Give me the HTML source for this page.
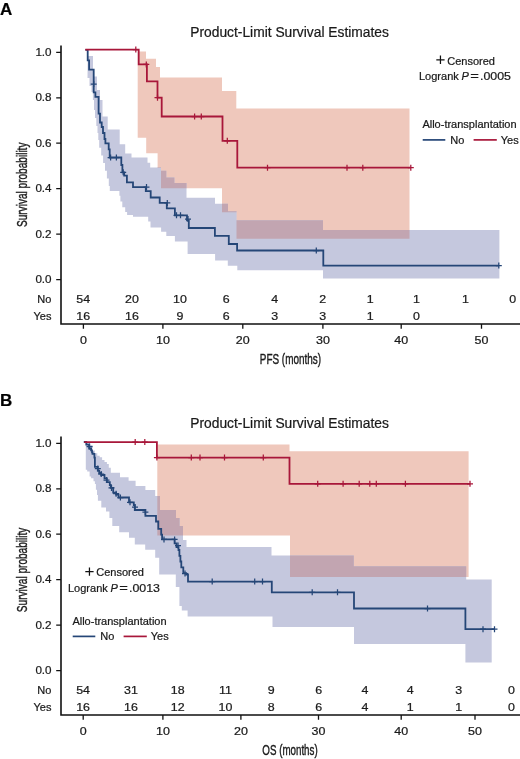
<!DOCTYPE html>
<html><head><meta charset="utf-8"><style>
html,body{margin:0;padding:0;background:#fff;width:520px;height:759px;overflow:hidden}
svg{display:block;will-change:transform}
text{font-family:"Liberation Sans",sans-serif;stroke:#1a1a1a;stroke-width:0.22px}
</style></head><body>
<svg width="520" height="759" viewBox="0 0 520 759">
<rect width="520" height="759" fill="#fff"/>
<path d="M137.70,51.50 L146.00,51.50 L146.00,58.70 L156.00,58.70 L156.00,67.00 L160.00,67.00 L160.00,77.50 L222.00,77.50 L222.00,91.00 L236.30,91.00 L236.30,108.50 L409.50,108.50 L409.50,238.80 L236.50,238.80 L236.50,212.30 L222.00,212.30 L222.00,188.30 L161.00,188.30 L161.00,168.10 L157.60,168.10 L157.60,153.30 L146.20,153.30 L146.20,137.80 L137.70,137.80 Z" fill="#EFC8BC"/>
<path d="M87.70,56.00 L93.00,56.00 L93.00,76.60 L97.00,76.60 L97.00,90.00 L100.00,90.00 L100.00,100.00 L102.50,100.00 L102.50,116.60 L107.70,116.60 L107.70,129.50 L119.70,129.50 L119.70,144.30 L125.20,144.30 L125.20,153.50 L131.50,153.50 L131.50,157.50 L147.50,157.50 L147.50,162.70 L150.20,162.70 L150.20,167.40 L161.00,167.40 L161.00,170.80 L166.30,170.80 L166.30,177.50 L174.40,177.50 L174.40,182.90 L186.50,182.90 L186.50,197.70 L215.00,197.70 L215.00,203.70 L228.00,203.70 L228.00,211.30 L236.50,211.30 L236.50,220.20 L323.00,220.20 L323.00,230.00 L499.40,230.00 L499.40,278.60 L323.00,278.60 L323.00,270.20 L237.30,270.20 L237.30,265.80 L227.80,265.80 L227.80,260.50 L215.10,260.50 L215.10,254.10 L187.60,254.10 L187.60,241.40 L174.90,241.40 L174.90,236.00 L166.30,236.00 L166.30,231.70 L161.10,231.70 L161.10,227.40 L150.50,227.40 L150.50,221.60 L148.20,221.60 L148.20,216.80 L133.00,216.80 L133.00,215.00 L127.10,215.00 L127.10,212.00 L125.20,212.00 L125.20,207.30 L122.30,207.30 L122.30,201.50 L120.40,201.50 L120.40,195.80 L119.40,195.80 L119.40,191.00 L109.80,191.00 L109.80,186.00 L108.80,186.00 L108.80,178.50 L106.90,178.50 L106.90,170.80 L105.00,170.80 L105.00,163.00 L103.10,163.00 L103.10,155.40 L101.20,155.40 L101.20,147.70 L99.20,147.70 L99.20,140.00 L98.30,140.00 L98.30,133.00 L97.50,133.00 L97.50,126.00 L96.30,126.00 L96.30,118.00 L95.00,118.00 L95.00,110.00 L94.00,110.00 L94.00,100.00 L92.90,100.00 L92.90,92.00 L91.50,92.00 L91.50,86.00 L89.50,86.00 L89.50,78.00 L87.50,78.00 Z" fill="#C5C8DE"/>
<clipPath id="ca"><path d="M87.70,56.00 L93.00,56.00 L93.00,76.60 L97.00,76.60 L97.00,90.00 L100.00,90.00 L100.00,100.00 L102.50,100.00 L102.50,116.60 L107.70,116.60 L107.70,129.50 L119.70,129.50 L119.70,144.30 L125.20,144.30 L125.20,153.50 L131.50,153.50 L131.50,157.50 L147.50,157.50 L147.50,162.70 L150.20,162.70 L150.20,167.40 L161.00,167.40 L161.00,170.80 L166.30,170.80 L166.30,177.50 L174.40,177.50 L174.40,182.90 L186.50,182.90 L186.50,197.70 L215.00,197.70 L215.00,203.70 L228.00,203.70 L228.00,211.30 L236.50,211.30 L236.50,220.20 L323.00,220.20 L323.00,230.00 L499.40,230.00 L499.40,278.60 L323.00,278.60 L323.00,270.20 L237.30,270.20 L237.30,265.80 L227.80,265.80 L227.80,260.50 L215.10,260.50 L215.10,254.10 L187.60,254.10 L187.60,241.40 L174.90,241.40 L174.90,236.00 L166.30,236.00 L166.30,231.70 L161.10,231.70 L161.10,227.40 L150.50,227.40 L150.50,221.60 L148.20,221.60 L148.20,216.80 L133.00,216.80 L133.00,215.00 L127.10,215.00 L127.10,212.00 L125.20,212.00 L125.20,207.30 L122.30,207.30 L122.30,201.50 L120.40,201.50 L120.40,195.80 L119.40,195.80 L119.40,191.00 L109.80,191.00 L109.80,186.00 L108.80,186.00 L108.80,178.50 L106.90,178.50 L106.90,170.80 L105.00,170.80 L105.00,163.00 L103.10,163.00 L103.10,155.40 L101.20,155.40 L101.20,147.70 L99.20,147.70 L99.20,140.00 L98.30,140.00 L98.30,133.00 L97.50,133.00 L97.50,126.00 L96.30,126.00 L96.30,118.00 L95.00,118.00 L95.00,110.00 L94.00,110.00 L94.00,100.00 L92.90,100.00 L92.90,92.00 L91.50,92.00 L91.50,86.00 L89.50,86.00 L89.50,78.00 L87.50,78.00 Z"/></clipPath>
<path d="M137.70,51.50 L146.00,51.50 L146.00,58.70 L156.00,58.70 L156.00,67.00 L160.00,67.00 L160.00,77.50 L222.00,77.50 L222.00,91.00 L236.30,91.00 L236.30,108.50 L409.50,108.50 L409.50,238.80 L236.50,238.80 L236.50,212.30 L222.00,212.30 L222.00,188.30 L161.00,188.30 L161.00,168.10 L157.60,168.10 L157.60,153.30 L146.20,153.30 L146.20,137.80 L137.70,137.80 Z" fill="#C2A5B1" clip-path="url(#ca)"/>
<path d="M85.40,49.80 L87.70,49.80 L87.70,60.40 L89.10,60.40 L89.10,69.70 L93.70,69.70 L93.70,92.40 L95.40,92.40 L95.40,96.80 L98.60,96.80 L98.60,113.60 L100.00,113.60 L100.00,122.50 L101.70,122.50 L101.70,127.00 L103.00,127.00 L103.00,133.00 L104.50,133.00 L104.50,139.00 L105.40,139.00 L105.40,143.40 L108.70,143.40 L108.70,149.40 L109.70,149.40 L109.70,157.50 L121.30,157.50 L121.30,165.00 L122.40,165.00 L122.40,172.30 L124.20,172.30 L124.20,175.70 L126.90,175.70 L126.90,182.40 L133.00,182.40 L133.00,187.10 L145.80,187.10 L145.80,191.10 L147.50,191.10 L147.50,191.10 L150.70,191.10 L150.70,197.50 L159.70,197.50 L159.70,202.90 L166.80,202.90 L166.80,208.30 L174.90,208.30 L174.90,215.30 L187.00,215.30 L187.00,220.40 L188.80,220.40 L188.80,228.00 L214.90,228.00 L214.90,235.80 L228.80,235.80 L228.80,244.00 L237.10,244.00 L237.10,250.50 L323.30,250.50 L323.30,265.60 L498.80,265.60" stroke="#254677" stroke-width="1.8" fill="none"/>
<path d="M93.70,81.00 V87.00 M90.70,84.00 H96.70 M110.60,154.50 V160.50 M107.60,157.50 H113.60 M116.40,154.50 V160.50 M113.40,157.50 H119.40 M123.20,169.30 V175.30 M120.20,172.30 H126.20 M146.50,184.10 V190.10 M143.50,187.10 H149.50 M167.30,199.90 V205.90 M164.30,202.90 H170.30 M176.50,212.30 V218.30 M173.50,215.30 H179.50 M180.50,212.30 V218.30 M177.50,215.30 H183.50 M188.00,216.00 V222.00 M185.00,219.00 H191.00 M316.30,247.50 V253.50 M313.30,250.50 H319.30 M498.80,262.60 V268.60 M495.80,265.60 H501.80 " stroke="#254677" stroke-width="1.25" fill="none"/>
<path d="M85.30,49.60 L138.70,49.60 L138.70,64.40 L146.90,64.40 L146.90,81.30 L157.50,81.30 L157.50,97.70 L161.70,97.70 L161.70,116.50 L222.50,116.50 L222.50,140.80 L237.30,140.80 L237.30,167.70 L410.80,167.70" stroke="#A8173A" stroke-width="1.8" fill="none"/>
<path d="M135.80,46.60 V52.60 M132.80,49.60 H138.80 M146.30,61.40 V67.40 M143.30,64.40 H149.30 M157.50,94.70 V100.70 M154.50,97.70 H160.50 M194.60,113.50 V119.50 M191.60,116.50 H197.60 M201.30,113.50 V119.50 M198.30,116.50 H204.30 M227.30,137.80 V143.80 M224.30,140.80 H230.30 M267.50,164.70 V170.70 M264.50,167.70 H270.50 M347.00,164.70 V170.70 M344.00,167.70 H350.00 M362.80,164.70 V170.70 M359.80,167.70 H365.80 M410.80,164.70 V170.70 M407.80,167.70 H413.80 " stroke="#A8173A" stroke-width="1.25" fill="none"/>
<path d="M61,45.5 V324 H520" stroke="#111" stroke-width="1.6" fill="none"/>
<text transform="translate(51.60,55.80) scale(1.08,0.96)" text-anchor="end" font-size="10.8" fill="#1a1a1a">1.0</text>
<text transform="translate(51.60,101.30) scale(1.08,0.96)" text-anchor="end" font-size="10.8" fill="#1a1a1a">0.8</text>
<text transform="translate(51.60,146.70) scale(1.08,0.96)" text-anchor="end" font-size="10.8" fill="#1a1a1a">0.6</text>
<text transform="translate(51.60,192.20) scale(1.08,0.96)" text-anchor="end" font-size="10.8" fill="#1a1a1a">0.4</text>
<text transform="translate(51.60,237.60) scale(1.08,0.96)" text-anchor="end" font-size="10.8" fill="#1a1a1a">0.2</text>
<text transform="translate(51.60,283.10) scale(1.08,0.96)" text-anchor="end" font-size="10.8" fill="#1a1a1a">0.0</text>
<text transform="translate(83.40,343.80) scale(1.2,0.96)" text-anchor="middle" font-size="10.4" fill="#1a1a1a">0</text>
<text transform="translate(162.90,343.80) scale(1.2,0.96)" text-anchor="middle" font-size="10.4" fill="#1a1a1a">10</text>
<text transform="translate(242.80,343.80) scale(1.2,0.96)" text-anchor="middle" font-size="10.4" fill="#1a1a1a">20</text>
<text transform="translate(322.90,343.80) scale(1.2,0.96)" text-anchor="middle" font-size="10.4" fill="#1a1a1a">30</text>
<text transform="translate(401.20,343.80) scale(1.2,0.96)" text-anchor="middle" font-size="10.4" fill="#1a1a1a">40</text>
<text transform="translate(481.50,343.80) scale(1.2,0.96)" text-anchor="middle" font-size="10.4" fill="#1a1a1a">50</text>
<path d="M56.2,52.30 H61 M56.2,97.80 H61 M56.2,143.20 H61 M56.2,188.70 H61 M56.2,234.10 H61 M56.2,279.60 H61 M83.40,324 V328.8 M162.90,324 V328.8 M242.80,324 V328.8 M322.90,324 V328.8 M401.20,324 V328.8 M481.50,324 V328.8 " stroke="#111" stroke-width="1.3" fill="none"/>
<text x="51.4" y="303" text-anchor="end" font-size="11" fill="#1a1a1a">No</text>
<text x="51.4" y="320.1" text-anchor="end" font-size="11" fill="#1a1a1a">Yes</text>
<text transform="translate(83.20,303.00) scale(1.13,0.98)" text-anchor="middle" font-size="11" fill="#1a1a1a">54</text>
<text transform="translate(132.00,303.00) scale(1.13,0.98)" text-anchor="middle" font-size="11" fill="#1a1a1a">20</text>
<text transform="translate(180.00,303.00) scale(1.13,0.98)" text-anchor="middle" font-size="11" fill="#1a1a1a">10</text>
<text transform="translate(226.20,303.00) scale(1.13,0.98)" text-anchor="middle" font-size="11" fill="#1a1a1a">6</text>
<text transform="translate(274.70,303.00) scale(1.13,0.98)" text-anchor="middle" font-size="11" fill="#1a1a1a">4</text>
<text transform="translate(322.60,303.00) scale(1.13,0.98)" text-anchor="middle" font-size="11" fill="#1a1a1a">2</text>
<text transform="translate(370.20,303.00) scale(1.13,0.98)" text-anchor="middle" font-size="11" fill="#1a1a1a">1</text>
<text transform="translate(416.50,303.00) scale(1.13,0.98)" text-anchor="middle" font-size="11" fill="#1a1a1a">1</text>
<text transform="translate(465.50,303.00) scale(1.13,0.98)" text-anchor="middle" font-size="11" fill="#1a1a1a">1</text>
<text transform="translate(512.60,303.00) scale(1.13,0.98)" text-anchor="middle" font-size="11" fill="#1a1a1a">0</text>
<text transform="translate(83.20,320.10) scale(1.13,0.98)" text-anchor="middle" font-size="11" fill="#1a1a1a">16</text>
<text transform="translate(132.00,320.10) scale(1.13,0.98)" text-anchor="middle" font-size="11" fill="#1a1a1a">16</text>
<text transform="translate(180.00,320.10) scale(1.13,0.98)" text-anchor="middle" font-size="11" fill="#1a1a1a">9</text>
<text transform="translate(226.20,320.10) scale(1.13,0.98)" text-anchor="middle" font-size="11" fill="#1a1a1a">6</text>
<text transform="translate(274.70,320.10) scale(1.13,0.98)" text-anchor="middle" font-size="11" fill="#1a1a1a">3</text>
<text transform="translate(322.60,320.10) scale(1.13,0.98)" text-anchor="middle" font-size="11" fill="#1a1a1a">3</text>
<text transform="translate(370.20,320.10) scale(1.13,0.98)" text-anchor="middle" font-size="11" fill="#1a1a1a">1</text>
<text transform="translate(416.50,320.10) scale(1.13,0.98)" text-anchor="middle" font-size="11" fill="#1a1a1a">0</text>
<text x="0" y="15" font-size="17" font-weight="bold" fill="#000">A</text>
<text x="190.3" y="36.5" font-size="13.8" fill="#1a1a1a">Product-Limit Survival Estimates</text>
<text transform="translate(26.5,184.8) rotate(-90)" text-anchor="middle" font-size="15" textLength="84.5" lengthAdjust="spacingAndGlyphs" fill="#1a1a1a" style="stroke-width:0.4px">Survival probability</text>
<text x="290.40" y="364.2" text-anchor="middle" font-size="15" textLength="61.2" lengthAdjust="spacingAndGlyphs" fill="#1a1a1a" style="stroke-width:0.4px">PFS (months)</text>
<path d="M436.30,59.75 H444.60 M440.45,55.60 V63.90" stroke="#111" stroke-width="1.25" fill="none"/>
<text x="447.30" y="64.50" font-size="11" fill="#1a1a1a">Censored</text>
<text x="419.00" y="79.90" font-size="11" fill="#1a1a1a">Logrank</text>
<text x="461.60" y="79.90" font-size="11" font-style="italic" fill="#1a1a1a">P</text>
<text x="470.20" y="80.20" font-size="12" textLength="8.6" lengthAdjust="spacingAndGlyphs" fill="#1a1a1a">=</text>
<text x="480.00" y="79.90" font-size="11.2" textLength="31" lengthAdjust="spacingAndGlyphs" fill="#1a1a1a">.0005</text>
<text x="422.40" y="128.30" font-size="11" fill="#1a1a1a">Allo-transplantation</text>
<path d="M422.70,139.90 H445.30" stroke="#254677" stroke-width="1.7"/>
<path d="M473.60,139.90 H496.80" stroke="#A8173A" stroke-width="1.7"/>
<text x="450.20" y="143.50" font-size="11" fill="#1a1a1a">No</text>
<text x="500.80" y="143.50" font-size="11" fill="#1a1a1a">Yes</text>
<path d="M157.30,444.60 L289.50,444.60 L289.50,451.30 L468.60,451.30 L468.60,577.00 L290.00,577.00 L290.00,535.40 L157.30,535.40 Z" fill="#EFC8BC"/>
<path d="M86.50,442.50 L87.20,442.50 L87.20,443.20 L89.60,443.20 L89.60,445.10 L92.50,445.10 L92.50,450.40 L94.90,450.40 L94.90,453.30 L97.30,453.30 L97.30,455.70 L99.70,455.70 L99.70,457.20 L102.10,457.20 L102.10,460.00 L104.50,460.00 L104.50,462.00 L106.90,462.00 L106.90,463.90 L108.80,463.90 L108.80,467.70 L110.80,467.70 L110.80,472.80 L120.00,472.80 L120.00,477.30 L128.60,477.30 L128.60,480.80 L135.60,480.80 L135.60,486.00 L145.40,486.00 L145.40,490.00 L155.20,490.00 L155.20,496.00 L160.00,496.00 L160.00,510.00 L176.00,510.00 L176.00,518.00 L179.60,518.00 L179.60,526.00 L183.00,526.00 L183.00,540.00 L186.50,540.00 L186.50,547.00 L271.50,547.00 L271.50,555.40 L353.80,555.40 L353.80,566.20 L466.20,566.20 L466.20,579.40 L491.70,579.40 L491.70,662.50 L465.40,662.50 L465.40,644.00 L354.00,644.00 L354.00,627.00 L272.50,627.00 L272.50,616.50 L187.60,616.50 L187.60,610.50 L181.80,610.50 L181.80,606.00 L179.40,606.00 L179.40,587.00 L175.80,587.00 L175.80,574.50 L159.20,574.50 L159.20,557.70 L155.20,557.70 L155.20,549.80 L145.20,549.80 L145.20,544.40 L134.80,544.40 L134.80,537.70 L129.00,537.70 L129.00,532.30 L119.20,532.30 L119.20,526.10 L112.30,526.10 L112.30,518.10 L109.40,518.10 L109.40,511.40 L106.00,511.40 L106.00,507.50 L101.30,507.50 L101.30,500.80 L97.90,500.80 L97.90,495.00 L97.00,495.00 L97.00,489.80 L95.90,489.80 L95.90,484.10 L94.90,484.10 L94.90,481.20 L93.50,481.20 L93.50,478.30 L91.10,478.30 L91.10,476.40 L89.60,476.40 L89.60,471.60 L87.20,471.60 L87.20,469.70 L85.80,469.70 L85.80,443.70 Z" fill="#C5C8DE"/>
<clipPath id="cb"><path d="M86.50,442.50 L87.20,442.50 L87.20,443.20 L89.60,443.20 L89.60,445.10 L92.50,445.10 L92.50,450.40 L94.90,450.40 L94.90,453.30 L97.30,453.30 L97.30,455.70 L99.70,455.70 L99.70,457.20 L102.10,457.20 L102.10,460.00 L104.50,460.00 L104.50,462.00 L106.90,462.00 L106.90,463.90 L108.80,463.90 L108.80,467.70 L110.80,467.70 L110.80,472.80 L120.00,472.80 L120.00,477.30 L128.60,477.30 L128.60,480.80 L135.60,480.80 L135.60,486.00 L145.40,486.00 L145.40,490.00 L155.20,490.00 L155.20,496.00 L160.00,496.00 L160.00,510.00 L176.00,510.00 L176.00,518.00 L179.60,518.00 L179.60,526.00 L183.00,526.00 L183.00,540.00 L186.50,540.00 L186.50,547.00 L271.50,547.00 L271.50,555.40 L353.80,555.40 L353.80,566.20 L466.20,566.20 L466.20,579.40 L491.70,579.40 L491.70,662.50 L465.40,662.50 L465.40,644.00 L354.00,644.00 L354.00,627.00 L272.50,627.00 L272.50,616.50 L187.60,616.50 L187.60,610.50 L181.80,610.50 L181.80,606.00 L179.40,606.00 L179.40,587.00 L175.80,587.00 L175.80,574.50 L159.20,574.50 L159.20,557.70 L155.20,557.70 L155.20,549.80 L145.20,549.80 L145.20,544.40 L134.80,544.40 L134.80,537.70 L129.00,537.70 L129.00,532.30 L119.20,532.30 L119.20,526.10 L112.30,526.10 L112.30,518.10 L109.40,518.10 L109.40,511.40 L106.00,511.40 L106.00,507.50 L101.30,507.50 L101.30,500.80 L97.90,500.80 L97.90,495.00 L97.00,495.00 L97.00,489.80 L95.90,489.80 L95.90,484.10 L94.90,484.10 L94.90,481.20 L93.50,481.20 L93.50,478.30 L91.10,478.30 L91.10,476.40 L89.60,476.40 L89.60,471.60 L87.20,471.60 L87.20,469.70 L85.80,469.70 L85.80,443.70 Z"/></clipPath>
<path d="M157.30,444.60 L289.50,444.60 L289.50,451.30 L468.60,451.30 L468.60,577.00 L290.00,577.00 L290.00,535.40 L157.30,535.40 Z" fill="#C2A5B1" clip-path="url(#cb)"/>
<path d="M83.80,442.00 L86.30,442.00 L86.30,444.70 L89.10,444.70 L89.10,448.50 L91.10,448.50 L91.10,450.40 L92.00,450.40 L92.00,452.30 L92.50,452.30 L92.50,453.80 L94.40,453.80 L94.40,457.60 L94.90,457.60 L94.90,466.80 L97.80,466.80 L97.80,470.60 L99.20,470.60 L99.20,473.00 L101.20,473.00 L101.20,475.00 L104.50,475.00 L104.50,478.30 L106.90,478.30 L106.90,482.20 L109.80,482.20 L109.80,485.00 L110.80,485.00 L110.80,487.90 L113.20,487.90 L113.20,492.70 L116.10,492.70 L116.10,494.70 L118.50,494.70 L118.50,497.50 L129.00,497.50 L129.00,502.30 L133.80,502.30 L133.80,505.20 L134.80,505.20 L134.80,510.00 L145.40,510.00 L145.40,515.80 L156.00,515.80 L156.00,521.50 L158.30,521.50 L158.30,528.80 L161.20,528.80 L161.20,534.60 L162.10,534.60 L162.10,539.40 L174.60,539.40 L174.60,543.30 L176.50,543.30 L176.50,547.10 L178.50,547.10 L178.50,550.00 L179.40,550.00 L179.40,555.80 L180.40,555.80 L180.40,561.50 L181.30,561.50 L181.30,567.30 L183.30,567.30 L183.30,573.10 L186.20,573.10 L186.20,574.50 L188.00,574.50 L188.00,581.60 L271.80,581.60 L271.80,592.30 L354.00,592.30 L354.00,608.50 L465.40,608.50 L465.40,629.20 L494.50,629.20" stroke="#254677" stroke-width="1.8" fill="none"/>
<path d="M89.60,443.50 V449.50 M86.60,446.50 H92.60 M97.80,465.50 V471.50 M94.80,468.50 H100.80 M101.20,471.00 V477.00 M98.20,474.00 H104.20 M106.50,477.00 V483.00 M103.50,480.00 H109.50 M111.50,484.90 V490.90 M108.50,487.90 H114.50 M116.10,490.70 V496.70 M113.10,493.70 H119.10 M120.40,494.50 V500.50 M117.40,497.50 H123.40 M130.00,499.30 V505.30 M127.00,502.30 H133.00 M135.00,504.00 V510.00 M132.00,507.00 H138.00 M145.40,509.00 V515.00 M142.40,512.00 H148.40 M164.00,536.40 V542.40 M161.00,539.40 H167.00 M174.60,536.40 V542.40 M171.60,539.40 H177.60 M178.00,542.50 V548.50 M175.00,545.50 H181.00 M185.00,570.50 V576.50 M182.00,573.50 H188.00 M212.20,578.60 V584.60 M209.20,581.60 H215.20 M254.70,578.60 V584.60 M251.70,581.60 H257.70 M262.50,578.60 V584.60 M259.50,581.60 H265.50 M312.20,589.30 V595.30 M309.20,592.30 H315.20 M337.50,589.30 V595.30 M334.50,592.30 H340.50 M427.50,605.50 V611.50 M424.50,608.50 H430.50 M483.00,626.20 V632.20 M480.00,629.20 H486.00 M494.50,626.20 V632.20 M491.50,629.20 H497.50 " stroke="#254677" stroke-width="1.25" fill="none"/>
<path d="M84.20,442.10 L156.90,442.10 L156.90,457.60 L289.50,457.60 L289.50,483.80 L470.00,483.80" stroke="#A8173A" stroke-width="1.8" fill="none"/>
<path d="M135.20,439.10 V445.10 M132.20,442.10 H138.20 M144.80,439.10 V445.10 M141.80,442.10 H147.80 M156.90,454.60 V460.60 M153.90,457.60 H159.90 M191.30,454.60 V460.60 M188.30,457.60 H194.30 M200.00,454.60 V460.60 M197.00,457.60 H203.00 M224.50,454.60 V460.60 M221.50,457.60 H227.50 M263.30,454.60 V460.60 M260.30,457.60 H266.30 M317.70,480.80 V486.80 M314.70,483.80 H320.70 M343.10,480.80 V486.80 M340.10,483.80 H346.10 M359.20,480.80 V486.80 M356.20,483.80 H362.20 M369.80,480.80 V486.80 M366.80,483.80 H372.80 M376.30,480.80 V486.80 M373.30,483.80 H379.30 M405.40,480.80 V486.80 M402.40,483.80 H408.40 M470.00,480.80 V486.80 M467.00,483.80 H473.00 " stroke="#A8173A" stroke-width="1.25" fill="none"/>
<path d="M61,436.5 V715 H520" stroke="#111" stroke-width="1.6" fill="none"/>
<text transform="translate(51.60,446.80) scale(1.08,0.96)" text-anchor="end" font-size="10.8" fill="#1a1a1a">1.0</text>
<text transform="translate(51.60,492.30) scale(1.08,0.96)" text-anchor="end" font-size="10.8" fill="#1a1a1a">0.8</text>
<text transform="translate(51.60,537.70) scale(1.08,0.96)" text-anchor="end" font-size="10.8" fill="#1a1a1a">0.6</text>
<text transform="translate(51.60,583.20) scale(1.08,0.96)" text-anchor="end" font-size="10.8" fill="#1a1a1a">0.4</text>
<text transform="translate(51.60,628.60) scale(1.08,0.96)" text-anchor="end" font-size="10.8" fill="#1a1a1a">0.2</text>
<text transform="translate(51.60,674.10) scale(1.08,0.96)" text-anchor="end" font-size="10.8" fill="#1a1a1a">0.0</text>
<text transform="translate(83.20,734.80) scale(1.2,0.96)" text-anchor="middle" font-size="10.4" fill="#1a1a1a">0</text>
<text transform="translate(162.90,734.80) scale(1.2,0.96)" text-anchor="middle" font-size="10.4" fill="#1a1a1a">10</text>
<text transform="translate(240.90,734.80) scale(1.2,0.96)" text-anchor="middle" font-size="10.4" fill="#1a1a1a">20</text>
<text transform="translate(318.50,734.80) scale(1.2,0.96)" text-anchor="middle" font-size="10.4" fill="#1a1a1a">30</text>
<text transform="translate(401.20,734.80) scale(1.2,0.96)" text-anchor="middle" font-size="10.4" fill="#1a1a1a">40</text>
<text transform="translate(475.00,734.80) scale(1.2,0.96)" text-anchor="middle" font-size="10.4" fill="#1a1a1a">50</text>
<path d="M56.2,443.30 H61 M56.2,488.80 H61 M56.2,534.20 H61 M56.2,579.70 H61 M56.2,625.10 H61 M56.2,670.60 H61 M83.20,715 V719.8 M162.90,715 V719.8 M240.90,715 V719.8 M318.50,715 V719.8 M401.20,715 V719.8 M475.00,715 V719.8 " stroke="#111" stroke-width="1.3" fill="none"/>
<text x="51.4" y="694" text-anchor="end" font-size="11" fill="#1a1a1a">No</text>
<text x="51.4" y="711.1" text-anchor="end" font-size="11" fill="#1a1a1a">Yes</text>
<text transform="translate(83.10,694.00) scale(1.13,0.98)" text-anchor="middle" font-size="11" fill="#1a1a1a">54</text>
<text transform="translate(131.00,694.00) scale(1.13,0.98)" text-anchor="middle" font-size="11" fill="#1a1a1a">31</text>
<text transform="translate(177.70,694.00) scale(1.13,0.98)" text-anchor="middle" font-size="11" fill="#1a1a1a">18</text>
<text transform="translate(225.50,694.00) scale(1.13,0.98)" text-anchor="middle" font-size="11" fill="#1a1a1a">11</text>
<text transform="translate(271.20,694.00) scale(1.13,0.98)" text-anchor="middle" font-size="11" fill="#1a1a1a">9</text>
<text transform="translate(318.80,694.00) scale(1.13,0.98)" text-anchor="middle" font-size="11" fill="#1a1a1a">6</text>
<text transform="translate(365.00,694.00) scale(1.13,0.98)" text-anchor="middle" font-size="11" fill="#1a1a1a">4</text>
<text transform="translate(410.20,694.00) scale(1.13,0.98)" text-anchor="middle" font-size="11" fill="#1a1a1a">4</text>
<text transform="translate(458.60,694.00) scale(1.13,0.98)" text-anchor="middle" font-size="11" fill="#1a1a1a">3</text>
<text transform="translate(511.50,694.00) scale(1.13,0.98)" text-anchor="middle" font-size="11" fill="#1a1a1a">0</text>
<text transform="translate(83.10,711.10) scale(1.13,0.98)" text-anchor="middle" font-size="11" fill="#1a1a1a">16</text>
<text transform="translate(131.00,711.10) scale(1.13,0.98)" text-anchor="middle" font-size="11" fill="#1a1a1a">16</text>
<text transform="translate(177.70,711.10) scale(1.13,0.98)" text-anchor="middle" font-size="11" fill="#1a1a1a">12</text>
<text transform="translate(225.50,711.10) scale(1.13,0.98)" text-anchor="middle" font-size="11" fill="#1a1a1a">10</text>
<text transform="translate(271.20,711.10) scale(1.13,0.98)" text-anchor="middle" font-size="11" fill="#1a1a1a">8</text>
<text transform="translate(318.80,711.10) scale(1.13,0.98)" text-anchor="middle" font-size="11" fill="#1a1a1a">6</text>
<text transform="translate(365.00,711.10) scale(1.13,0.98)" text-anchor="middle" font-size="11" fill="#1a1a1a">4</text>
<text transform="translate(410.20,711.10) scale(1.13,0.98)" text-anchor="middle" font-size="11" fill="#1a1a1a">1</text>
<text transform="translate(458.60,711.10) scale(1.13,0.98)" text-anchor="middle" font-size="11" fill="#1a1a1a">1</text>
<text transform="translate(511.50,711.10) scale(1.13,0.98)" text-anchor="middle" font-size="11" fill="#1a1a1a">0</text>
<text x="0" y="406" font-size="17" font-weight="bold" fill="#000">B</text>
<text x="190.3" y="427.5" font-size="13.8" fill="#1a1a1a">Product-Limit Survival Estimates</text>
<text transform="translate(26.5,569.9) rotate(-90)" text-anchor="middle" font-size="15" textLength="84.5" lengthAdjust="spacingAndGlyphs" fill="#1a1a1a" style="stroke-width:0.4px">Survival probability</text>
<text x="290.00" y="755.2" text-anchor="middle" font-size="15" textLength="55.4" lengthAdjust="spacingAndGlyphs" fill="#1a1a1a" style="stroke-width:0.4px">OS (months)</text>
<path d="M85.30,571.65 H93.60 M89.45,567.50 V575.80" stroke="#111" stroke-width="1.25" fill="none"/>
<text x="96.30" y="576.40" font-size="11" fill="#1a1a1a">Censored</text>
<text x="68.00" y="591.80" font-size="11" fill="#1a1a1a">Logrank</text>
<text x="110.60" y="591.80" font-size="11" font-style="italic" fill="#1a1a1a">P</text>
<text x="119.20" y="592.10" font-size="12" textLength="8.6" lengthAdjust="spacingAndGlyphs" fill="#1a1a1a">=</text>
<text x="129.00" y="591.80" font-size="11.2" textLength="31" lengthAdjust="spacingAndGlyphs" fill="#1a1a1a">.0013</text>
<text x="72.40" y="624.80" font-size="11" fill="#1a1a1a">Allo-transplantation</text>
<path d="M72.70,636.40 H95.30" stroke="#254677" stroke-width="1.7"/>
<path d="M123.60,636.40 H146.80" stroke="#A8173A" stroke-width="1.7"/>
<text x="100.20" y="640.00" font-size="11" fill="#1a1a1a">No</text>
<text x="150.80" y="640.00" font-size="11" fill="#1a1a1a">Yes</text>
</svg>
</body></html>
